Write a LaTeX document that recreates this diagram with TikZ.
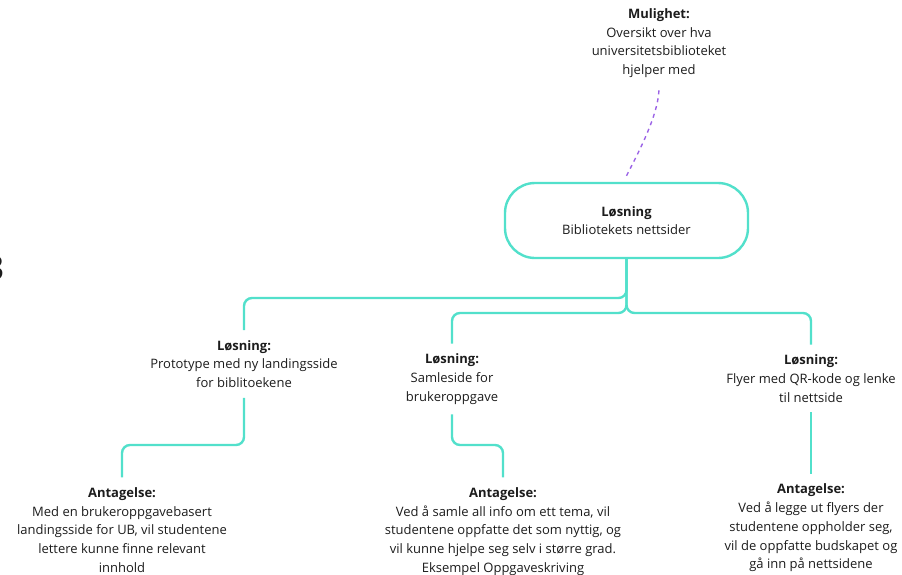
\documentclass[tikz,border=0pt]{standalone}
\usepackage{fontspec}
\setmainfont{Open Sans}
\definecolor{teal2}{HTML}{52E0CB}
\definecolor{violet2}{HTML}{9B63E6}
\definecolor{ink}{HTML}{1C1C1C}
\begin{document}
\begin{tikzpicture}[x=1pt,y=-1pt,
  txt/.style={align=center,text=ink,inner xsep=0pt,inner ysep=10pt,
    font=\fontsize{13}{18.7}\selectfont},
  hub/.style={draw=teal2,line width=2.4pt,rounded corners=30pt,fill=white,
    minimum width=243pt,minimum height=75pt,align=center,text=ink,
    font=\fontsize{13}{18.7}\selectfont},
  conn/.style={draw=teal2,line width=2.4pt,rounded corners=8pt},
  dotline/.style={draw=violet2,line width=1.4pt,dash pattern=on 4pt off 4pt}]
\useasboundingbox (0,0) rectangle (902,574);

% fragment of a heading at the left margin
\node[anchor=east,inner sep=0pt,text=ink,font=\bfseries\fontsize{34}{34}\selectfont] (frag) at (4,268) {3};

% opportunity
\node[txt] (opp) at (659,43) {\textbf{Mulighet:}\\Oversikt over hva\\universitetsbiblioteket\\hjelper med};

% central solution
\node[hub] (hub) at (626.5,220.5) {\textbf{Løsning}\\Bibliotekets nettsider};

% solutions
\node[txt] (s1) at (244,364) {\textbf{Løsning:}\\Prototype med ny landingsside\\for biblitoekene};
\node[txt] (s2) at (452,379) {\textbf{Løsning:}\\Samleside for\\brukeroppgave};
\node[txt] (s3) at (811,378.5) {\textbf{Løsning:}\\Flyer med QR-kode og lenke\\til nettside};

% assumptions
\node[txt] (a1) at (122,530) {\textbf{Antagelse:}\\Med en brukeroppgavebasert\\landingsside for UB, vil studentene\\lettere kunne finne relevant\\innhold};
\node[txt] (a2) at (503,531.5) {\textbf{Antagelse:}\\Ved å samle all info om ett tema, vil\\studentene oppfatte det som nyttig, og\\vil kunne hjelpe seg selv i større grad.\\Eksempel Oppgaveskriving};
\node[txt] (a3) at (811,528) {\textbf{Antagelse:}\\Ved å legge ut flyers der\\studentene oppholder seg,\\vil de oppfatte budskapet og\\gå inn på nettsidene};

% dotted link to the opportunity
\draw[dotline] ([yshift=6pt]hub.north) .. controls (637,155) and (659,115) .. (opp.south);

% tree connectors
\draw[conn] (hub.south) -- (hub.south |- 0,298) -| (s1.north);
\draw[conn] (hub.south) -- (hub.south |- 0,313) -| (s2.north);
\draw[conn] (hub.south) -- (hub.south |- 0,313) -| (s3.north);
\draw[conn] (s1.south) -- (s1.south |- 0,445) -| (a1.north);
\draw[conn] (s2.south) -- (s2.south |- 0,445) -| (a2.north);
\draw[conn] (s3.south) -- (s3.south |- a3.north);
\end{tikzpicture}
\end{document}
